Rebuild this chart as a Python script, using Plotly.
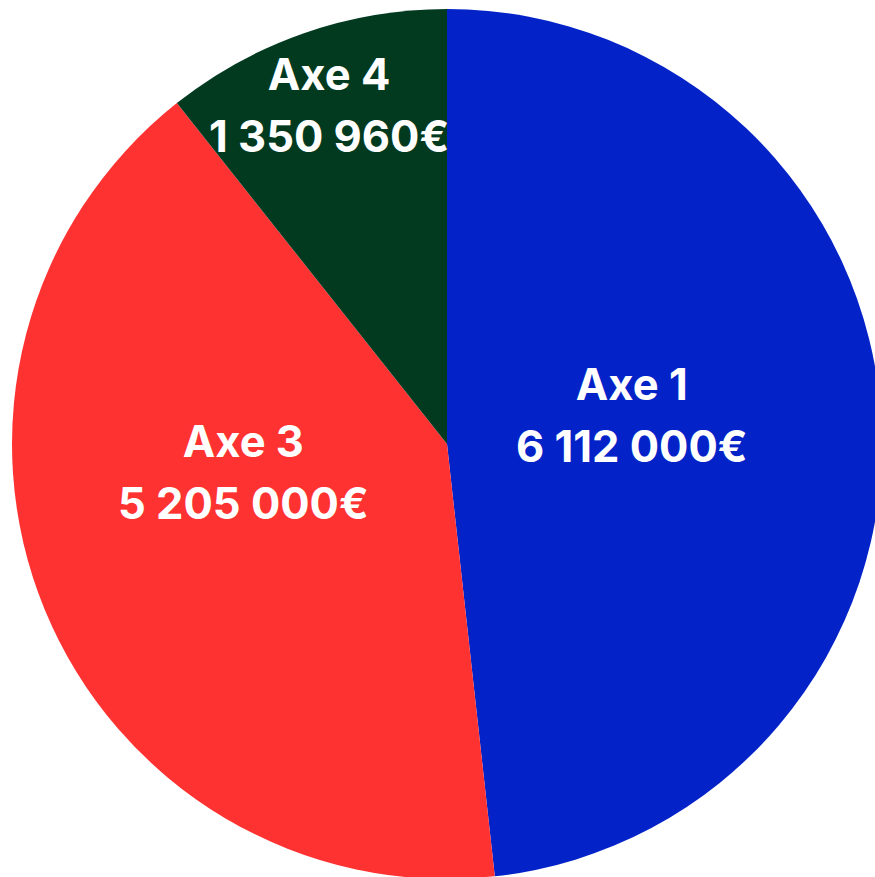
import math
import plotly.graph_objects as go

# ---- data ----
labels = ["Axe 1", "Axe 3", "Axe 4"]
values = [6112000, 5205000, 1350960]
value_text = ["6 112 000€", "5 205 000€", "1 350 960€"]

# ---- style / layout ----
colors = ["#0323C8", "#FF3232", "#023A20"]
W, H = 890, 890                                  # figure a bit larger than the window: pie is cut at the right
PIE_CX, PIE_CY, PIE_R = 447, 444, 435            # pie geometry in figure pixels
label_r_frac = [0.431, 0.473, 0.826]             # label distance from centre (fraction of radius)
label_angle_nudge = [-5.7, 14.5, 0.0]            # degrees, relative to slice mid-angle

dom_x = [(PIE_CX - PIE_R) / W, (PIE_CX + PIE_R) / W]
dom_y = [1 - (PIE_CY + PIE_R) / H, 1 - (PIE_CY - PIE_R) / H]

fig = go.Figure(go.Pie(
    labels=labels,
    values=values,
    textinfo="none",
    direction="clockwise",
    rotation=0,
    sort=False,
    marker=dict(colors=colors, line=dict(width=0)),
    domain=dict(x=dom_x, y=dom_y),
    showlegend=False,
    hoverinfo="skip",
))

# labels placed from the slice angles computed from the values
total = sum(values)
start = 0.0
annotations = []
for i, (lab, v, txt) in enumerate(zip(labels, values, value_text)):
    span = v / total * 360.0
    mid = start + span / 2 + label_angle_nudge[i]
    start += span
    r = PIE_R * label_r_frac[i]
    px = PIE_CX + r * math.sin(math.radians(mid))
    py = PIE_CY - r * math.cos(math.radians(mid))
    annotations.append(dict(
        x=px / W, y=1 - py / H, xref="paper", yref="paper",
        xanchor="center", yanchor="middle", showarrow=False,
        text=f"<span style='font-size:43.5px'>{lab}</span><br>"
             f"<span style='font-size:43.5px'>{txt}</span>",
        font=dict(family="Inter", size=47.5, color="white", weight="bold"),
        align="center",
    ))

fig.update_layout(
    width=W, height=H,
    margin=dict(l=0, r=0, t=0, b=0),
    paper_bgcolor="white",
    plot_bgcolor="white",
    annotations=annotations,
)

fig.write_html(
    "out.html",
    config={"displayModeBar": False},
    default_width=f"{W}px",
    default_height=f"{H}px",
    post_script="document.documentElement.style.overflow='hidden';"
                "document.body.style.overflow='hidden';"
                "document.body.style.margin='0';",
)
